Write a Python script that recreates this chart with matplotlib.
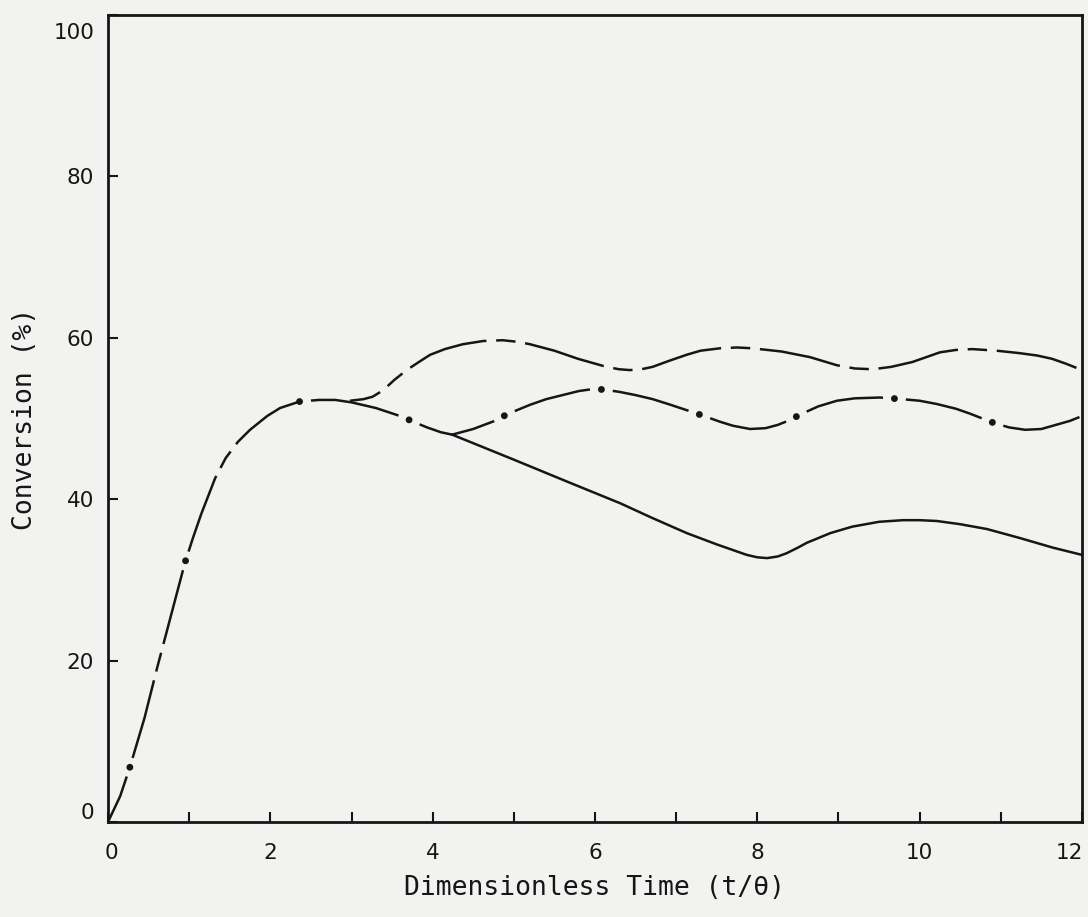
import matplotlib
matplotlib.use('Agg')
import matplotlib.pyplot as plt
from matplotlib.transforms import ScaledTranslation

# Subida comum (0 até o ponto do máximo)
sub_x = [0, 0.15, 0.27, 0.45, 0.6, 0.8, 0.95, 1.05, 1.15, 1.32, 1.45, 1.6, 1.75,
         1.96, 2.12, 2.36]
sub_y = [0, 3.2, 6.8, 12.9, 18.9, 26.5, 32.2, 35.3, 38.2, 42.6, 45.1, 47.1, 48.6,
         50.3, 51.3, 52.1]

# Ramo do meio (traço-ponto), a partir do máximo
meio_x = [2.36, 2.6, 2.8, 3.0, 3.3, 3.63, 3.76, 3.93, 4.1, 4.24, 4.5, 4.79, 4.91,
          5.2, 5.4, 5.6, 5.8, 5.94, 6.1, 6.3, 6.5, 6.71, 6.9, 7.08, 7.23, 7.4,
          7.54, 7.7, 7.91, 8.1, 8.25, 8.4, 8.53, 8.75, 8.98, 9.2, 9.51, 9.78,
          10.0, 10.21, 10.45, 10.62, 10.9, 11.1, 11.3, 11.5, 11.64, 11.85, 12.0]
meio_y = [52.1, 52.3, 52.3, 52.0, 51.3, 50.2, 49.6, 48.9, 48.3, 48.0, 48.7, 49.8, 50.5,
          51.7, 52.4, 52.9, 53.4, 53.6, 53.6, 53.3, 52.9, 52.4, 51.8, 51.2, 50.7, 50.1,
          49.6, 49.1, 48.7, 48.8, 49.2, 49.8, 50.5, 51.5, 52.2, 52.5, 52.6, 52.4,
          52.2, 51.8, 51.2, 50.6, 49.5, 48.9, 48.6, 48.7, 49.1, 49.7, 50.3]

# Ramo inferior (linha cheia)
a_x = [4.24, 5.0, 5.7, 6.31, 6.7, 7.13, 7.5, 7.87, 8.0, 8.12, 8.25, 8.36, 8.5,
       8.61, 8.9, 9.17, 9.5, 9.79, 10.0, 10.21, 10.5, 10.83, 11.23, 11.64, 12.0]
a_y = [48.0, 44.9, 42.0, 39.5, 37.7, 35.8, 34.4, 33.1, 32.8, 32.7, 32.9, 33.3, 34.0,
       34.6, 35.8, 36.6, 37.2, 37.4, 37.4, 37.3, 36.9, 36.3, 35.2, 34.0, 33.1]

# Ramo superior (tracejado longo-curto)
b_x = [2.98, 3.15, 3.26, 3.39, 3.53, 3.68, 3.83, 3.97, 4.15, 4.37, 4.62, 4.86, 5.05,
       5.2, 5.5, 5.79, 6.0, 6.14, 6.3, 6.43, 6.57, 6.71, 6.9, 7.13, 7.3, 7.54, 7.75,
       7.94, 8.3, 8.65, 8.98, 9.2, 9.42, 9.65, 9.91, 10.08, 10.25, 10.45, 10.65,
       10.95, 11.23, 11.45, 11.63, 11.8, 12.0]
b_y = [52.2, 52.4, 52.7, 53.5, 54.8, 56.0, 57.0, 57.9, 58.6, 59.2, 59.6, 59.7, 59.5,
       59.2, 58.4, 57.4, 56.8, 56.4, 56.1, 56.0, 56.1, 56.4, 57.1, 57.9, 58.4, 58.7, 58.8,
       58.7, 58.3, 57.6, 56.6, 56.2, 56.1, 56.4, 57.0, 57.6, 58.2, 58.5, 58.6,
       58.4, 58.1, 57.8, 57.4, 56.8, 56.0]

x_ticks = [0, 2, 4, 6, 8, 10, 12]
x_minor = [1, 3, 5, 7, 9, 11]
y_ticks = [0, 20, 40, 60, 80, 100]

plt.rcParams['lines.scale_dashes'] = False
tinta = '#161616'
fundo = '#f2f2f0'

fig = plt.figure(figsize=(10.88, 9.17), dpi=100, facecolor=fundo)
ax = fig.add_axes([108 / 1088, 95 / 917, 974 / 1088, 807 / 917], facecolor=fundo)

# Subida: traço longo, curto, longo e ponto a cada dois periodos
ax.plot(sub_x, sub_y, color=tinta, lw=1.8,
        linestyle=(104.5, (58, 6.5, 14, 6.5, 55, 14)), dash_capstyle='butt', clip_on=False)
ax.plot(sub_x, sub_y, color=tinta, lw=5,
        linestyle=(611.5, (0.01, 153.99, 0.01, 500)), dash_capstyle='round', clip_on=False)

# Ramo do meio: traço-ponto (primeiro intervalo um pouco maior, como no original)
tracos_meio = (0.001, 8.249, 64.5, 16.5) + (56.5, 16.5) * 12
pontos_meio = (0.01, 80.99) + (0.01, 72.99) * 12
ax.plot(meio_x, meio_y, color=tinta, lw=1.8, linestyle=(0, tracos_meio),
        dash_capstyle='butt', clip_on=False)
ax.plot(meio_x, meio_y, color=tinta, lw=5, linestyle=(0, pontos_meio),
        dash_capstyle='round', clip_on=False)

ax.plot(a_x, a_y, color=tinta, lw=1.8, clip_on=False)
ax.plot(b_x, b_y, color=tinta, lw=1.8, linestyle=(36, (59, 7, 14, 7)),
        dash_capstyle='butt', clip_on=False)

ax.set_xlim(0, 12)
ax.set_ylim(0, 100)
ax.set_xticks(x_ticks)
ax.set_xticks(x_minor, minor=True)
ax.set_yticks(y_ticks)
ax.tick_params(which='both', direction='in', length=7, width=1.5, color=tinta,
               labelsize=15.5, labelcolor=tinta)
ax.tick_params(axis='x', pad=15)
ax.tick_params(axis='y', pad=10)
for s in ax.spines.values():
    s.set_linewidth(2.0)
    s.set_color(tinta)

# Ajustes dos rótulos nas pontas (como no original)
dpi_t = fig.dpi_scale_trans
ylbl = ax.get_yticklabels()
ylbl[0].set_transform(ylbl[0].get_transform() + ScaledTranslation(0, 0.11, dpi_t))
ylbl[-1].set_transform(ylbl[-1].get_transform() + ScaledTranslation(0, -0.16, dpi_t))
xlbl = ax.get_xticklabels()
xlbl[0].set_transform(xlbl[0].get_transform() + ScaledTranslation(0.03, 0, dpi_t))
xlbl[-1].set_transform(xlbl[-1].get_transform() + ScaledTranslation(-0.13, 0, dpi_t))

ax.set_xlabel('Dimensionless Time (t/θ)', fontsize=19, family='DejaVu Sans Mono', color=tinta)
ax.set_ylabel('Conversion (%)', fontsize=19, family='DejaVu Sans Mono', color=tinta)
ax.xaxis.set_label_coords(0.5, -0.066)
ax.yaxis.set_label_coords(-0.072, 0.5)

plt.savefig('out.png', dpi=100, facecolor=fundo)
